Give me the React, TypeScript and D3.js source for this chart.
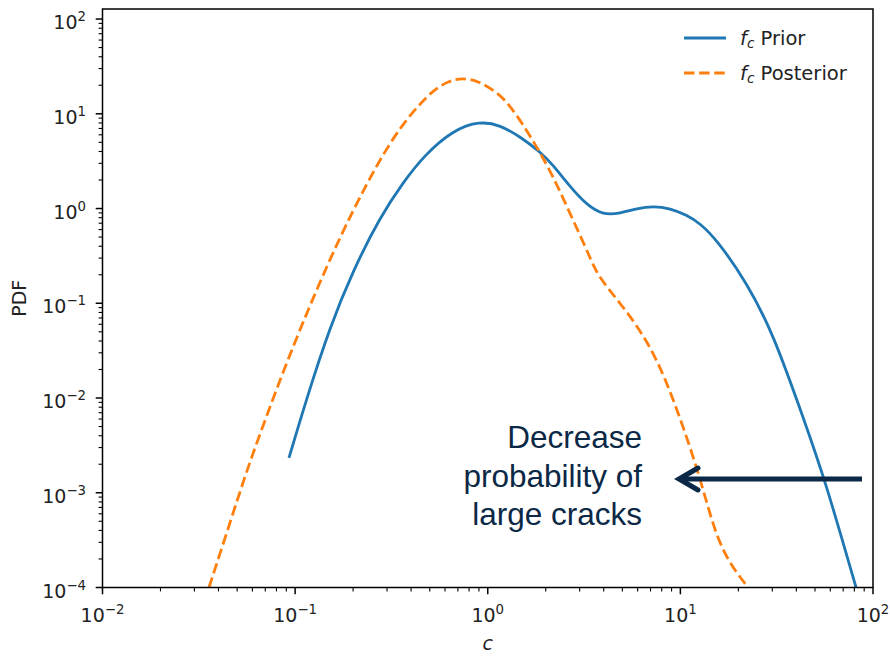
import React from "react";
import * as d3 from "d3";

// Prior f_c (blue)
const priorC = [0.0929, 0.1148, 0.1517, 0.2004, 0.2761, 0.3648, 0.4677, 0.6607, 0.912, 1.159, 1.472, 1.871, 2.183, 2.673, 3.266, 3.981, 4.864, 5.943, 7.244, 8.851, 10.79, 12.65, 15.49, 22.18, 30.27, 44.36, 56.36, 81.66];
const priorPdf = [0.00233, 0.00993, 0.0565, 0.2244, 0.813, 1.905, 3.631, 6.745, 8.375, 7.603, 5.728, 3.972, 2.877, 1.698, 1.089, 0.853, 0.889, 1.005, 1.062, 1.005, 0.853, 0.698, 0.466, 0.1637, 0.0485, 0.0055, 0.00136, 0.0001];

// Posterior f_c (orange)
const postC = [0.0357, 0.0459, 0.0562, 0.0714, 0.0918, 0.1245, 0.171, 0.2355, 0.3112, 0.3981, 0.52, 0.631, 0.745, 0.891, 1.117, 1.352, 2.032, 2.63, 3.396, 3.69, 4.864, 6.18, 7.568, 9.162, 12.22, 14.79, 17.46, 22.44];
const postPdf = [1e-4, 4.8e-4, 1.738e-3, 6.64e-3, 0.02576, 0.1172, 0.5035, 1.845, 5.012, 10.0, 17.82, 22.4, 23.82, 22.3, 16.98, 11.48, 3.02, 0.955, 0.3076, 0.1995, 0.1007, 0.05224, 0.02518, 0.01, 1.871e-3, 4.36e-4, 1.95e-4, 1e-4];

const xTickExps = [-2, -1, 0, 1, 2];
const yTickExps = [-4, -3, -2, -1, 0, 1, 2];
const legendLabels = ["Prior", "Posterior"];
const annotationLines = ["Decrease", "probability of", "large cracks"];

const W = 890, H = 656;
const L = 102.5, R = 873, T = 9, B = 587.5;
const FONT = "DejaVu Sans";
const FS = 19;

function sup(e: number) {
  return e < 0 ? "\u2212" + Math.abs(e) : String(e);
}

export default function App() {
  const x = d3.scaleLog().domain([1e-2, 1e2]).range([L, R]);
  const y = d3.scaleLog().domain([1e-4, Math.pow(10, 2.106)]).range([B, T]);

  const line = d3
    .line<[number, number]>()
    .x((d) => x(d[0]))
    .y((d) => y(d[1]))
    .curve(d3.curveBasis);

  const priorPts: [number, number][] = priorC.map((c, i) => [c, priorPdf[i]]);
  const postPts: [number, number][] = postC.map((c, i) => [c, postPdf[i]]);

  const xMinor: number[] = [];
  for (let e = -2; e < 2; e++) for (let k = 2; k <= 9; k++) xMinor.push(k * Math.pow(10, e));
  const yMinor: number[] = [];
  for (let e = -4; e < 3; e++) for (let k = 2; k <= 9; k++) {
    const v = k * Math.pow(10, e);
    if (v <= Math.pow(10, 2.106)) yMinor.push(v);
  }

  const blue = "#1f77b4", orange = "#ff7f0e", navy = "#0b2846";

  return (
    <svg width={W} height={H} style={{ position: "absolute", left: 0, top: 0, background: "#fff" }} fontFamily={FONT}>
      <defs>
        <clipPath id="plotclip">
          <rect x={L} y={T} width={R - L} height={B - T} />
        </clipPath>
      </defs>
      <rect x={0} y={0} width={W} height={H} fill="#fff" />

      <g clipPath="url(#plotclip)" fill="none">
        <path d={line(priorPts) || ""} stroke={blue} strokeWidth={2.8} />
        <path d={line(postPts) || ""} stroke={orange} strokeWidth={2.8} strokeDasharray="10.5,4.6" />
      </g>

      {/* frame */}
      <rect x={L} y={T} width={R - L} height={B - T} fill="none" stroke="#000" strokeWidth={1.5} />

      {/* x ticks */}
      {xMinor.map((v, i) => (
        <line key={"xm" + i} x1={x(v)} x2={x(v)} y1={B} y2={B + 3.9} stroke="#000" strokeWidth={1.1} />
      ))}
      {xTickExps.map((e) => (
        <g key={"xt" + e}>
          <line x1={x(Math.pow(10, e))} x2={x(Math.pow(10, e))} y1={B} y2={B + 6.8} stroke="#000" strokeWidth={1.5} />
          <text x={x(Math.pow(10, e))} y={622} textAnchor="middle" fontSize={FS} fill="#222">
            10
            <tspan fontSize={FS * 0.7} dy={-8}>{sup(e)}</tspan>
          </text>
        </g>
      ))}

      {/* y ticks */}
      {yMinor.map((v, i) => (
        <line key={"ym" + i} x1={L - 3.9} x2={L} y1={y(v)} y2={y(v)} stroke="#000" strokeWidth={1.1} />
      ))}
      {yTickExps.map((e) => (
        <g key={"yt" + e}>
          <line x1={L - 6.8} x2={L} y1={y(Math.pow(10, e))} y2={y(Math.pow(10, e))} stroke="#000" strokeWidth={1.5} />
          <text x={86} y={y(Math.pow(10, e)) + 10} textAnchor="end" fontSize={FS} fill="#222">
            10
            <tspan fontSize={FS * 0.7} dy={-8}>{sup(e)}</tspan>
          </text>
        </g>
      ))}

      {/* axis labels */}
      <text transform={`translate(26,${(T + B) / 2}) rotate(-90)`} textAnchor="middle" fontSize={FS} fill="#222">PDF</text>
      <text x={(L + R) / 2} y={650} textAnchor="middle" fontSize={FS} fontStyle="italic" fill="#222">c</text>

      {/* legend */}
      {legendLabels.map((lab, i) => {
        const ly = 38 + i * 35;
        return (
          <g key={"lg" + i}>
            <line x1={684} x2={726} y1={ly} y2={ly} stroke={i === 0 ? blue : orange} strokeWidth={2.8}
              strokeDasharray={i === 0 ? undefined : "10.5,4.6"} />
            <text x={740} y={ly + 7} fontSize={19.5} fill="#222">
              <tspan fontStyle="italic">f</tspan>
              <tspan fontStyle="italic" fontSize={19.5 * 0.7} dy={3}>c</tspan>
              <tspan dy={-3}>{" " + lab}</tspan>
            </text>
          </g>
        );
      })}

      {/* annotation */}
      {annotationLines.map((t, i) => (
        <text key={"an" + i} x={642} y={448 + i * 38.5} textAnchor="end" fontFamily="Liberation Sans, Arial" fontSize={31.5} fill={navy}>
          {t}
        </text>
      ))}
      <line x1={862} x2={682} y1={479} y2={479} stroke={navy} strokeWidth={5} />
      <polyline points="698,468 679,479 698,490" fill="none" stroke={navy} strokeWidth={5} strokeLinecap="round" strokeLinejoin="miter" />
    </svg>
  );
}
